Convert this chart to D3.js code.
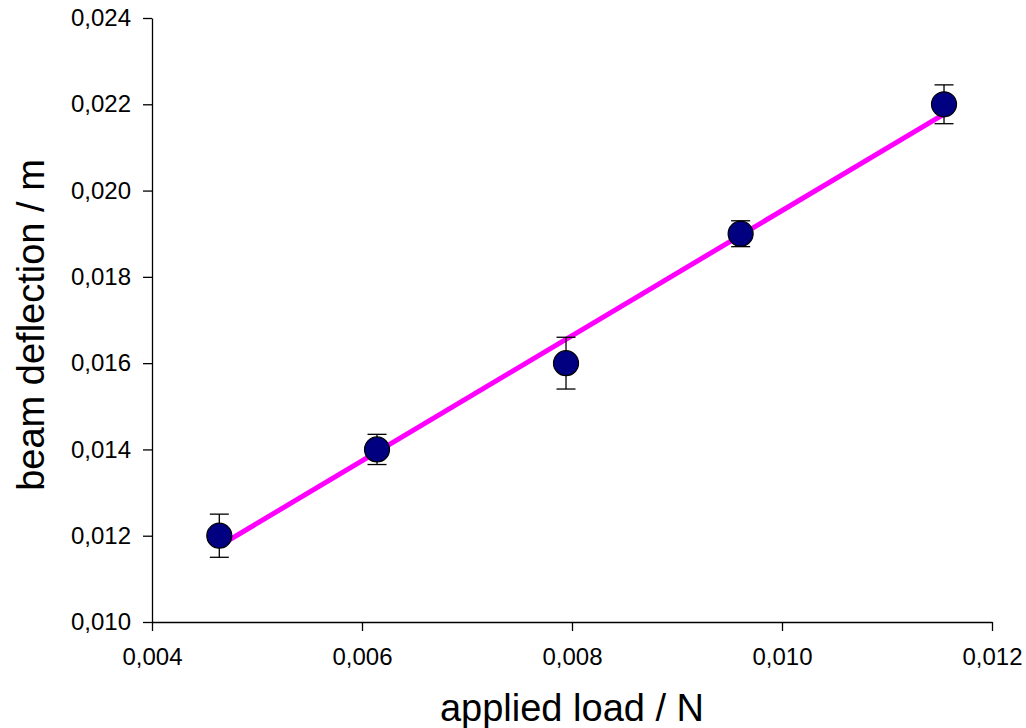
<!DOCTYPE html>
<html>
<head>
<meta charset="utf-8">
<script src="https://cdn.jsdelivr.net/npm/d3@7"></script>
<style>
  html, body { margin: 0; padding: 0; background: #fff; }
  svg { display: block; font-family: "Liberation Sans", Arial, sans-serif; }
</style>
</head>
<body>
<svg id="chart" width="1026" height="728"></svg>
<script>
// Data
const appliedLoad = [0.004641, 0.006143, 0.007943, 0.009606, 0.011543];
const beamDeflection = [0.0120, 0.0140, 0.0160, 0.0190, 0.0220];
const deflectionError = [0.0005, 0.00035, 0.0006, 0.0003, 0.00045];
const xTicks = [0.004, 0.006, 0.008, 0.010, 0.012];
const yTicks = [0.010, 0.012, 0.014, 0.016, 0.018, 0.020, 0.022, 0.024];
const xLabel = "applied load / N";
const yLabel = "beam deflection / m";

const svg = d3.select("#chart");
const plotLeft = 152, plotRight = 992, plotTop = 18, plotBottom = 622;

const x = d3.scaleLinear().domain([0.004, 0.012]).range([plotLeft, plotRight]);
const y = d3.scaleLinear().domain([0.010, 0.024]).range([plotBottom, plotTop]);
const fmt = d => d3.format(".3f")(d).replace(".", ",");

// Axes
const xAxis = svg.append("g")
  .attr("transform", `translate(0,${plotBottom})`)
  .call(d3.axisBottom(x).tickValues(xTicks).tickSize(9).tickSizeOuter(0).tickPadding(17).tickFormat(fmt));
const yAxis = svg.append("g")
  .attr("transform", `translate(${plotLeft},0)`)
  .call(d3.axisLeft(y).tickValues(yTicks).tickSize(9).tickSizeOuter(0).tickPadding(12).tickFormat(fmt));

[xAxis, yAxis].forEach(a => {
  a.select(".domain").attr("stroke", "#000").attr("stroke-width", 1.3);
  a.selectAll(".tick line").attr("stroke", "#000").attr("stroke-width", 1.3);
  a.selectAll(".tick text").attr("fill", "#000").style("font-size", "24px")
    .style("font-family", '"Liberation Sans", Arial, sans-serif');
});

// Trend line (least squares fit of the data)
const n = appliedLoad.length;
const mx = d3.mean(appliedLoad), my = d3.mean(beamDeflection);
let sxy = 0, sxx = 0;
for (let i = 0; i < n; i++) {
  sxy += (appliedLoad[i] - mx) * (beamDeflection[i] - my);
  sxx += (appliedLoad[i] - mx) ** 2;
}
const slope = sxy / sxx, icpt = my - slope * mx;
const xMin = d3.min(appliedLoad), xMax = d3.max(appliedLoad);
svg.append("line")
  .attr("x1", x(xMin)).attr("y1", y(icpt + slope * xMin))
  .attr("x2", x(xMax)).attr("y2", y(icpt + slope * xMax))
  .attr("stroke", "#FF00FF").attr("stroke-width", 5);

// Error bars
const pts = appliedLoad.map((v, i) => ({ x: v, y: beamDeflection[i], e: deflectionError[i] }));
const eb = svg.append("g").attr("stroke", "#000").attr("stroke-width", 1.3);
pts.forEach(p => {
  eb.append("line").attr("x1", x(p.x)).attr("x2", x(p.x)).attr("y1", y(p.y + p.e)).attr("y2", y(p.y - p.e));
  eb.append("line").attr("x1", x(p.x) - 9.5).attr("x2", x(p.x) + 9.5).attr("y1", y(p.y + p.e)).attr("y2", y(p.y + p.e));
  eb.append("line").attr("x1", x(p.x) - 9.5).attr("x2", x(p.x) + 9.5).attr("y1", y(p.y - p.e)).attr("y2", y(p.y - p.e));
});

// Markers
svg.append("g").selectAll("circle").data(pts).join("circle")
  .attr("cx", d => x(d.x)).attr("cy", d => y(d.y)).attr("r", 12.5)
  .attr("fill", "#000080").attr("stroke", "#000").attr("stroke-width", 1.2);

// Axis titles
svg.append("text").attr("x", 572).attr("y", 721).attr("text-anchor", "middle")
  .style("font-size", "38px").attr("fill", "#000").text(xLabel);
svg.append("text").attr("transform", "translate(44,325) rotate(-90)").attr("text-anchor", "middle")
  .style("font-size", "38px").attr("fill", "#000").text(yLabel);
</script>
</body>
</html>
